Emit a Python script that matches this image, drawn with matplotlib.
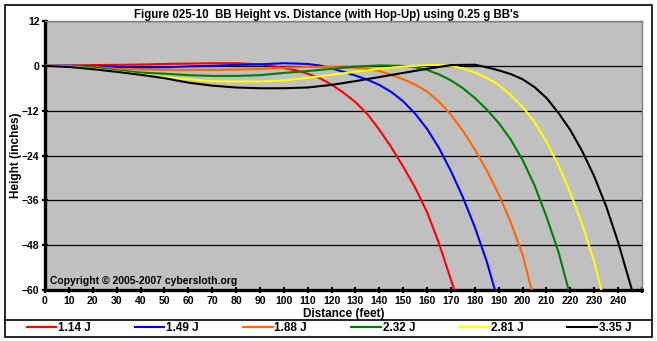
import matplotlib
matplotlib.use("Agg")
import matplotlib.pyplot as plt
from matplotlib.lines import Line2D
from matplotlib.patches import Rectangle

# font settings
matplotlib.rcParams['font.family'] = ['Liberation Sans', 'DejaVu Sans']
matplotlib.rcParams['font.weight'] = 'bold'

# data (distance in feet, height in inches)
labels = ["1.14 J", "1.49 J", "1.88 J", "2.32 J", "2.81 J", "3.35 J"]
colors = ["#FF0000", "#0000FF", "#FF6600", "#008000", "#FFFF00", "#000000"]

red_x = [0, 10, 20, 30, 40, 50, 60, 70, 80, 90, 95, 100, 105, 110, 115, 120, 125,
         130, 135, 140, 145, 150, 155, 160, 165, 170, 171.5]
red_y = [0, 0.05, 0.2, 0.25, 0.35, 0.5, 0.6, 0.7, 0.7, 0.4, 0.0, -0.6, -1.2, -2.1,
         -3.3, -5.0, -7.2, -9.7, -12.9, -17.1, -21.8, -27.0, -32.6, -39.2, -47.5,
         -57.3, -60]

blue_x = [0, 10, 20, 30, 40, 50, 60, 70, 80, 90, 100, 110, 115, 120, 125, 130, 135,
          140, 145, 150, 155, 160, 165, 170, 175, 180, 185, 188.4]
blue_y = [0, 0.05, -0.1, -0.3, -0.45, -0.4, -0.15, 0.0, 0.25, 0.4, 0.7, 0.5, 0.1,
          -0.7, -1.6, -2.6, -3.7, -5.1, -7.0, -9.5, -12.8, -16.9, -22.0, -28.2,
          -35.2, -43.2, -52.4, -60]

orange_x = [0, 10, 20, 30, 40, 50, 60, 70, 80, 90, 100, 110, 120, 130, 135, 140,
            145, 150, 155, 160, 165, 170, 175, 180, 185, 190, 195, 200, 203.8]
orange_y = [0, -0.05, -0.3, -0.8, -1.0, -1.07, -1.07, -1.07, -1.0, -0.85, -0.5,
            -0.3, -0.3, -0.5, -0.8, -1.4, -2.4, -3.6, -5.0, -6.9, -9.6, -13.1,
            -17.4, -22.4, -28.0, -34.4, -41.8, -50.5, -60]

green_x = [0, 10, 20, 30, 40, 50, 60, 70, 80, 90, 100, 110, 120, 130, 140, 150,
           155, 160, 165, 170, 175, 180, 185, 190, 195, 200, 205, 210, 215, 219.3]
green_y = [0, -0.1, -0.4, -1.2, -1.8, -2.1, -2.5, -2.7, -2.7, -2.5, -1.9, -1.4,
           -0.8, -0.2, 0.1, 0.0, -0.4, -1.1, -2.3, -3.9, -6.0, -8.6, -11.7, -15.3,
           -19.7, -25.2, -32.0, -40.4, -49.8, -60]

yellow_x = [0, 10, 20, 30, 40, 50, 60, 70, 80, 90, 100, 110, 120, 130, 140, 150,
            160, 165, 170, 175, 180, 185, 190, 195, 200, 205, 210, 215, 220, 225,
            230, 233]
yellow_y = [0, -0.2, -0.8, -1.5, -2.3, -3.0, -3.6, -4.1, -4.2, -4.2, -3.9, -3.2,
            -2.4, -1.6, -0.8, -0.2, 0.2, 0.25, 0.0, -0.7, -1.8, -3.2, -5.1, -7.8,
            -11.0, -15.0, -20.3, -26.6, -34.0, -42.5, -52.5, -60]

black_x = [0, 10, 20, 30, 40, 50, 60, 70, 80, 90, 100, 110, 120, 130, 140, 150,
           160, 170, 180, 185, 190, 195, 200, 205, 210, 215, 220, 225, 230, 235,
           240, 245.8]
black_y = [0, -0.3, -0.9, -1.6, -2.4, -3.3, -4.5, -5.3, -5.8, -6.0, -6.0, -5.8,
           -5.1, -4.1, -3.0, -1.9, -0.8, 0.2, 0.3, -0.4, -1.2, -2.2, -3.6, -5.7,
           -8.6, -12.6, -17.2, -22.9, -29.6, -37.6, -47.2, -60]

series_x = [red_x, blue_x, orange_x, green_x, yellow_x, black_x]
series_y = [red_y, blue_y, orange_y, green_y, yellow_y, black_y]

x_ticks = list(range(0, 251, 10))
x_tick_labels = [str(t) for t in range(0, 241, 10)] + [""]
y_ticks = [12, 0, -12, -24, -36, -48, -60]


def draw_chart(save_path="out.png"):
    fig = plt.figure(figsize=(6.57, 3.41), dpi=100)
    fig.patch.set_facecolor("white")

    ax = fig.add_axes([45 / 657, 1 - 290 / 341, 597 / 657, 269 / 341])
    ax.set_facecolor("#C0C0C0")

    # horizontal grid lines
    for yv in y_ticks:
        ax.axhline(yv, color="black", linewidth=0.9, zorder=1)

    for xs, ys, c, lab in zip(series_x, series_y, colors, labels):
        ax.plot(xs, ys, color=c, linewidth=1.5, label=lab, zorder=3,
                solid_joinstyle="round")

    ax.set_xlim(0, 250)
    ax.set_ylim(-60, 12)
    ax.set_xticks(x_ticks)
    ax.set_xticklabels(x_tick_labels)
    ax.set_yticks(y_ticks)
    ax.tick_params(axis="both", labelsize=7.5, direction="inout", length=4,
                   width=1.5, pad=2)

    for side in ["left", "bottom"]:
        ax.spines[side].set_linewidth(2.4)
        ax.spines[side].set_color("black")
    for side in ["top", "right"]:
        ax.spines[side].set_linewidth(1)
        ax.spines[side].set_color("#808080")

    ax.set_xlabel("Distance (feet)", fontsize=8.5, fontweight="bold", labelpad=2)
    ax.set_ylabel("Height (inches)", fontsize=8.5, fontweight="bold")
    ax.yaxis.set_label_coords(-23 / 597, 0.5)

    ax.text(0.008, 0.032, "Copyright \u00a9 2005-2007 cybersloth.org",
            transform=ax.transAxes, fontsize=7.5, fontweight="bold",
            ha="left", va="center")

    fig.text(326 / 657, 1 - 15 / 341,
             "Figure 025-10  BB Height vs. Distance (with Hop-Up) using 0.25 g BB's",
             ha="center", va="center", fontsize=8.3, fontweight="bold")

    # legend below the plot
    handles, labs = ax.get_legend_handles_labels()
    fig.legend(handles, labs, loc="center", ncol=6, frameon=False,
               bbox_to_anchor=(329 / 657, 1 - 328 / 341), fontsize=8.5,
               handlelength=2.5, handletextpad=0.15, columnspacing=3.75,
               borderaxespad=0)

    # outer frame and separator line
    fig.add_artist(Rectangle((5 / 657, 1 - 337 / 341), 647 / 657, 332 / 341,
                             transform=fig.transFigure, fill=False,
                             edgecolor="black", linewidth=1.2))
    fig.add_artist(Line2D([5 / 657, 652 / 657], [1 - 320 / 341, 1 - 320 / 341],
                          transform=fig.transFigure, color="black", linewidth=1.2))

    fig.savefig(save_path, dpi=100)
    return fig


if __name__ == "__main__":
    draw_chart()
